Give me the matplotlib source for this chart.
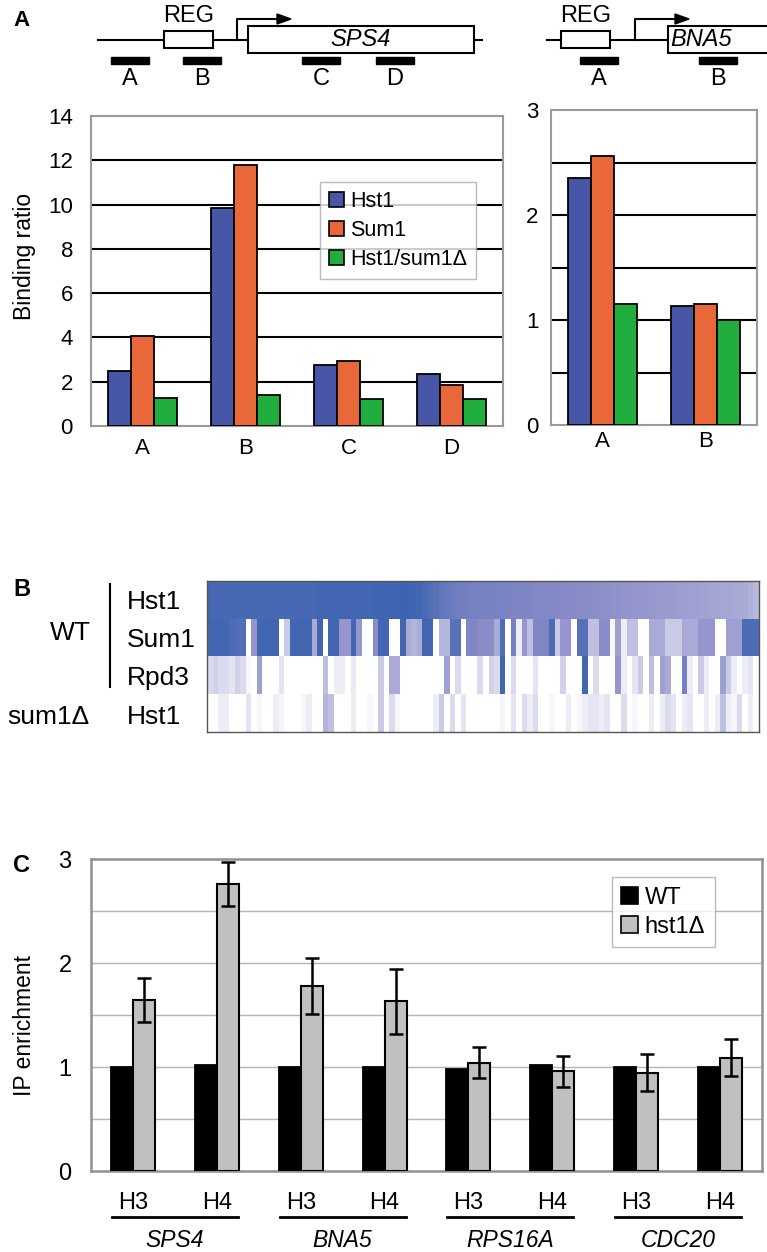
import numpy as np
import matplotlib
matplotlib.use('Agg')
import matplotlib.pyplot as plt
from matplotlib.colors import LinearSegmentedColormap
from matplotlib.patches import Rectangle, Patch, Polygon
from matplotlib.transforms import blended_transform_factory

plt.rcParams['font.family'] = ['Liberation Sans', 'DejaVu Sans']

LARGURA, ALTURA = 767, 1252

# Painel A - sondas do SPS4
sondasSPS4 = ['A', 'B', 'C', 'D']
hst1SPS4 = [2.5, 9.85, 2.75, 2.37]
sum1SPS4 = [4.05, 11.8, 2.92, 1.85]
hst1Sum1DeltaSPS4 = [1.27, 1.4, 1.2, 1.2]

# Painel A - sondas do BNA5
sondasBNA5 = ['A', 'B']
hst1BNA5 = [2.35, 1.13]
sum1BNA5 = [2.565, 1.15]
hst1Sum1DeltaBNA5 = [1.15, 1.0]

seriesA = ['Hst1', 'Sum1', 'Hst1/sum1Δ']
coresA = ['#4756a6', '#e8683a', '#22ae3e']

# Painel B - mapa de calor (100 colunas, intensidade 0-1)
rotulosLinhas = ['Hst1', 'Sum1', 'Rpd3', 'Hst1']
hst1WT = [.93, .93, .93, .93, .93, .93, .93, .93, .93, .93,
          .93, .93, .93, .93, .93, .93, .93, .93, .93, .93,
          .95, .95, .95, .95, .95, .95, .95, .95, .95, .95,
          .97, .97, .97, .97, .98, .98, .98, .97, .95, .92,
          .88, .84, .80, .77, .75, .73, .72, .71, .70, .70,
          .69, .68, .68, .67, .67, .66, .66, .65, .65, .64,
          .64, .63, .63, .62, .62, .61, .61, .60, .60, .59,
          .59, .58, .58, .57, .57, .56, .56, .55, .55, .54,
          .54, .53, .53, .52, .52, .51, .51, .50, .50, .49,
          .49, .48, .48, .47, .47, .46, .46, .45, .42, .38]
sum1WT = [.95, .95, .95, .95, .90, .88, .88, 0, .55, .95,
          .95, .95, .95, 0, .30, .95, .95, .95, .95, .45,
          .95, 0, .95, .95, .55, .55, .95, .55, 0, 0,
          .60, .95, .95, 0, 0, .95, .45, .40, .45, .95,
          .95, 0, .40, .40, .85, .85, 0, .65, .65, .60,
          .60, .60, .45, .90, 0, .70, .10, .55, .35, .65,
          .65, .65, .90, .30, .55, .55, 0, .85, .85, .35,
          .35, .60, .60, .05, .50, .10, .35, .35, 0, 0,
          .45, .45, .45, .30, .30, .30, .45, .45, .45, .55,
          .55, .55, 0, 0, .50, .50, .50, .90, .90, .90]
rpd3WT = [.20, .25, .20, .20, .15, .25, .20, .05, 0, .50,
          0, 0, 0, .15, 0, 0, 0, 0, 0, 0,
          0, .35, 0, .10, .10, 0, .12, 0, 0, 0,
          0, .30, 0, .45, .45, 0, 0, 0, 0, 0,
          0, 0, 0, .50, 0, .20, 0, 0, 0, .20,
          0, .25, .20, .95, 0, .20, 0, 0, 0, .15,
          0, 0, 0, 0, .25, 0, 0, 0, .95, 0,
          .20, 0, 0, 0, .55, .10, 0, .15, .30, 0,
          .35, 0, .50, .45, 0, 0, .70, .10, 0, .30,
          .10, 0, 0, .50, .30, .10, 0, .10, .15, 0]
hst1Sum1Delta = [0, 0, .10, .10, 0, 0, 0, .15, 0, .05,
                 0, 0, .10, .05, 0, 0, 0, .05, .10, 0,
                 0, .40, .35, 0, 0, 0, .10, 0, 0, .05,
                 0, .30, 0, .20, .05, 0, 0, 0, 0, 0,
                 0, .10, .30, 0, .20, 0, .15, 0, 0, 0,
                 0, 0, 0, .05, 0, .15, 0, .20, .10, .20,
                 0, 0, .05, 0, 0, .10, 0, .05, .10, .15,
                 .15, .10, .15, 0, 0, .20, 0, .05, 0, 0,
                 .10, 0, .10, .20, .15, 0, .10, .15, 0, 0,
                 .10, 0, .10, .35, .10, .05, .20, 0, .10, 0]

# Painel C - enriquecimento de IP
genes = ['SPS4', 'BNA5', 'RPS16A', 'CDC20']
histonas = ['H3', 'H4']
wtIP = [1.0, 1.02, 1.0, 1.0, 0.98, 1.02, 1.0, 1.0]
hst1DeltaIP = [1.645, 2.76, 1.78, 1.63, 1.04, 0.96, 0.945, 1.09]
hst1DeltaErro = [0.21, 0.215, 0.27, 0.31, 0.15, 0.15, 0.18, 0.18]


def caixa(esq, topo, dir, base):
    """Converte uma caixa em pixels (origem no topo) para coordenadas da figura"""
    return [esq / LARGURA, 1 - base / ALTURA, (dir - esq) / LARGURA, (base - topo) / ALTURA]


def desenharGene(ax, linhaIni, linhaFim, reg, promotor, gene, nome, sondas):
    """Desenha o esquema do gene com REG, promotor e sondas"""
    ax.plot([linhaIni, linhaFim], [40, 40], color='black', lw=1.5, zorder=1)
    ax.add_patch(Rectangle((reg, 31), 49, 17, facecolor='white', edgecolor='black', lw=1.5, zorder=2))
    ax.text(reg + 24.5, 16, 'REG', ha='center', va='center', fontsize=17)
    ax.plot([promotor, promotor, promotor + 42], [40, 19, 19], color='black', lw=1.5)
    ax.add_patch(Polygon([(promotor + 40, 14), (promotor + 54, 19), (promotor + 40, 24)],
                         closed=True, color='black'))
    ax.add_patch(Rectangle((gene[0], 26), gene[1] - gene[0], 27, facecolor='white',
                           edgecolor='black', lw=1.5, zorder=2, clip_on=False))
    if gene[1] > LARGURA:
        ax.text(gene[0] + 2, 40, nome, ha='left', va='center', fontsize=17, style='italic', zorder=3)
    else:
        ax.text((gene[0] + gene[1]) / 2, 40, nome, ha='center', va='center', fontsize=17,
                style='italic', zorder=3)
    for rotulo, esq in sondas:
        ax.add_patch(Rectangle((esq, 57), 38, 7, color='black'))
        ax.text(esq + 19, 79, rotulo, ha='center', va='center', fontsize=17)


def desenharBarrasA(fig, pos, sondas, valores, ymax, passoGrade, ticksY, padY, padX):
    """Cria gráfico de barras agrupadas do painel A"""
    ax = fig.add_axes(pos)
    x = np.arange(len(sondas))
    w = 0.226
    for i, (vals, cor) in enumerate(zip(valores, coresA)):
        ax.bar(x + (i - 1) * w, vals, w, color=cor, edgecolor='black', linewidth=1.3, zorder=3)
    ax.set_xlim(-0.5, len(sondas) - 0.5)
    ax.set_ylim(0, ymax)
    for v in np.arange(passoGrade, ymax - 1e-9, passoGrade):
        ax.axhline(v, color='black', lw=1.5, zorder=1)
    ax.set_xticks(x)
    ax.set_xticklabels(sondas)
    ax.set_yticks(ticksY)
    ax.tick_params(axis='y', length=0, labelsize=16, pad=padY)
    ax.tick_params(axis='x', length=0, labelsize=16, pad=padX)
    for lado in ax.spines.values():
        lado.set_color('#9a9a9a')
        lado.set_linewidth(1.5)
    return ax


def desenharMapaCalor(fig):
    """Cria o mapa de calor do painel B"""
    ax = fig.add_axes(caixa(207, 581, 759, 732))
    matriz = np.array([hst1WT, sum1WT, rpd3WT, hst1Sum1Delta])
    cmap = LinearSegmentedColormap.from_list(
        'azul', [(0, '#ffffff'), (0.3, '#c9cae6'), (0.6, '#8a8cc8'), (1, '#3a62b1')])
    ax.imshow(matriz, cmap=cmap, vmin=0, vmax=1, aspect='auto', interpolation='nearest')
    ax.set_xticks([])
    ax.set_yticks([])
    for lado in ax.spines.values():
        lado.set_color('#555555')
        lado.set_linewidth(1.0)


def desenharPainelC(fig):
    """Cria gráfico de barras com barras de erro do painel C"""
    ax = fig.add_axes(caixa(91, 859, 762, 1171))
    x = np.arange(len(wtIP))
    w = 0.262
    ax.bar(x - w / 2, wtIP, w, color='black', edgecolor='black', linewidth=1.3, zorder=3)
    ax.bar(x + w / 2, hst1DeltaIP, w, color='#c0c0c0', edgecolor='black', linewidth=1.5, zorder=3)
    ax.errorbar(x + w / 2, hst1DeltaIP, yerr=hst1DeltaErro, fmt='none', ecolor='black',
                elinewidth=1.8, capsize=5, capthick=1.8, zorder=4)
    ax.set_xlim(-0.5, len(wtIP) - 0.5)
    ax.set_ylim(0, 3)
    for v in np.arange(0.5, 3, 0.5):
        ax.axhline(v, color='#b4b4b4', lw=1.0, zorder=1)
    ax.set_yticks([0, 1, 2, 3])
    ax.set_xticks(x)
    ax.set_xticklabels(histonas * len(genes))
    ax.tick_params(axis='y', length=0, labelsize=17, pad=14)
    ax.tick_params(axis='x', length=0, labelsize=17, pad=15)
    for lado in ax.spines.values():
        lado.set_color('#909090')
        lado.set_linewidth(1.8)

    trans = blended_transform_factory(ax.transData, ax.transAxes)
    for g, gene in enumerate(genes):
        centro = 2 * g + 0.5
        ax.plot([centro - 0.75, centro + 0.75], [-0.147, -0.147], transform=trans,
                color='black', lw=2, clip_on=False)
        ax.text(centro, -0.222, gene, transform=trans, ha='center', va='center',
                fontsize=16.5, style='italic')

    handles = [Patch(facecolor='black', edgecolor='black', linewidth=1.2),
               Patch(facecolor='#c0c0c0', edgecolor='black', linewidth=1.2)]
    leg = ax.legend(handles, ['WT', 'hst1Δ'], loc='upper left', bbox_to_anchor=(0.776, 0.942),
                    fontsize=17, frameon=True, fancybox=False, edgecolor='#aaaaaa',
                    handlelength=0.7, handleheight=0.7, handletextpad=0.3,
                    labelspacing=0.3, borderpad=0.4, borderaxespad=0)
    leg.get_frame().set_linewidth(1.0)
    return ax


def main():
    fig = plt.figure(figsize=(LARGURA / 100, ALTURA / 100), dpi=100)

    # Camada de anotações em pixels
    anot = fig.add_axes([0, 0, 1, 1])
    anot.set_xlim(0, LARGURA)
    anot.set_ylim(ALTURA, 0)
    anot.axis('off')

    anot.text(13, 20, 'A', fontsize=16, weight='bold', va='center')
    desenharGene(anot, 98, 482, 164, 237, (248, 474), 'SPS4',
                 [('A', 111), ('B', 183), ('C', 302), ('D', 376)])
    desenharGene(anot, 547, 668, 561, 635, (668, 790), 'BNA5',
                 [('A', 580), ('B', 699)])

    axA = desenharBarrasA(fig, caixa(91, 116, 503, 426), sondasSPS4,
                          [hst1SPS4, sum1SPS4, hst1Sum1DeltaSPS4], 14, 2,
                          np.arange(0, 15, 2), 13, 9)
    handles = [Patch(facecolor=c, edgecolor='black', linewidth=1.2) for c in coresA]
    leg = axA.legend(handles, seriesA, loc='upper left', bbox_to_anchor=(0.556, 0.787),
                     fontsize=15.5, frameon=True, fancybox=False, edgecolor='#aaaaaa',
                     handlelength=0.7, handleheight=0.7, handletextpad=0.3,
                     labelspacing=0.38, borderpad=0.4, borderaxespad=0)
    leg.get_frame().set_linewidth(1.0)
    anot.text(24, 256, 'Binding ratio', rotation=90, ha='center', va='center', fontsize=16.5)

    desenharBarrasA(fig, caixa(551, 110, 757, 425), sondasBNA5,
                    [hst1BNA5, sum1BNA5, hst1Sum1DeltaBNA5], 3, 0.5,
                    [0, 1, 2, 3], 9, 4)

    # Painel B
    anot.text(13, 590, 'B', fontsize=17, weight='bold', va='center')
    anot.text(91, 633, 'WT', fontsize=19, ha='right', va='center')
    anot.plot([110, 110], [584, 687], color='black', lw=1.5)
    for rotulo, y in zip(rotulosLinhas, [602, 640, 678, 717]):
        anot.text(127, y, rotulo, fontsize=19, ha='left', va='center')
    anot.text(7, 717, 'sum1Δ', fontsize=19, ha='left', va='center')
    desenharMapaCalor(fig)

    # Painel C
    anot.text(13, 865, 'C', fontsize=17, weight='bold', va='center')
    desenharPainelC(fig)
    anot.text(25, 1025, 'IP enrichment', rotation=90, ha='center', va='center', fontsize=16.5)

    fig.savefig('out.png', dpi=100)


if __name__ == "__main__":
    main()
